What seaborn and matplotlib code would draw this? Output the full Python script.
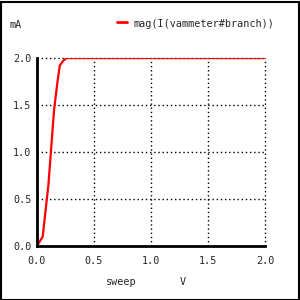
import matplotlib
matplotlib.use("Agg")
import matplotlib.pyplot as plt
import seaborn as sns
import pandas as pd
from matplotlib.patches import Rectangle
from matplotlib.lines import Line2D

sweep_v = [0.0, 0.05, 0.1, 0.15, 0.18, 0.2, 0.23, 0.26, 0.3, 2.0]
current_ma = [0.0, 0.1, 0.65, 1.45, 1.75, 1.92, 1.97, 2.0, 2.0, 2.0]
x_ticks = [0.0, 0.5, 1.0, 1.5, 2.0]
y_ticks = [0.0, 0.5, 1.0, 1.5, 2.0]
series_name = "mag(I(vammeter#branch))"

df = pd.DataFrame({"sweep": sweep_v, "mA": current_ma})

sns.set_style("white")
plt.rcParams['font.family'] = ['DejaVu Sans Mono']
fs = 7.3

fig = plt.figure(figsize=(3, 3), dpi=100)
ax = fig.add_axes([37/300, 1-246/300, 228/300, 188/300])
sns.lineplot(data=df, x="sweep", y="mA", ax=ax, color="#ff0000", linewidth=1.6,
             estimator=None, sort=False, zorder=5)

ax.set_xlim(0, 2.0)
ax.set_ylim(0, 2.0)
ax.set_xticks(x_ticks)
ax.set_yticks(y_ticks)
ax.set_xticklabels([f"{t:.1f}" for t in x_ticks], fontsize=fs)
ax.set_yticklabels([f"{t:.1f}" for t in y_ticks], fontsize=fs)
ax.tick_params(axis="x", length=0, pad=7)
ax.tick_params(axis="y", length=0, pad=4)
ax.set_xlabel("")
ax.set_ylabel("")
ax.grid(True, color="black", linestyle=(0, (1, 2)), linewidth=1.0)
for gl in ax.get_xgridlines() + ax.get_ygridlines():
    gl.set_clip_on(False)
for s in ["top", "right"]:
    ax.spines[s].set_visible(False)
for s in ["left", "bottom"]:
    ax.spines[s].set_color("black")
    ax.spines[s].set_linewidth(2)
    ax.spines[s].set_zorder(6)
ax.set_facecolor("white")

fig.text(10/300, 1-25/300, "mA", fontsize=fs, va="center", ha="left")
fig.add_artist(Line2D([117/300, 127/300], [1-22/300, 1-22/300], color="#ff0000", linewidth=2))
fig.text(134/300, 1-24/300, series_name, fontsize=fs, va="center", ha="left")
fig.text(106/300, 1-282/300, "sweep", fontsize=fs, va="center", ha="left")
fig.text(180/300, 1-282/300, "V", fontsize=fs, va="center", ha="left")

fig.add_artist(Rectangle((0.5/300, 0.5/300), 298/300, 298/300, transform=fig.transFigure,
                         fill=False, edgecolor="black", linewidth=1.5))

fig.savefig("out.png", dpi=100, facecolor="white")
